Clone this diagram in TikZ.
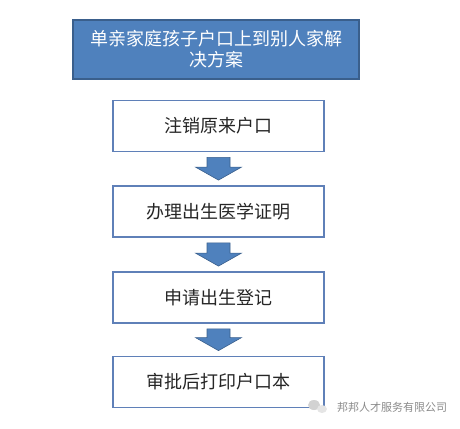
\documentclass[tikz,border=0pt]{standalone}
\usepackage{fontspec}
\setmainfont{Noto Sans CJK SC}
\newfontfamily\cjk{Noto Sans CJK SC}
\usetikzlibrary{calc}
\definecolor{titlefill}{HTML}{4F81BD}
\definecolor{titledraw}{HTML}{3A5F8C}
\definecolor{boxdraw}{HTML}{5F80B8}
\definecolor{boxtext}{HTML}{262626}
\definecolor{wmgray}{HTML}{8A8A8A}
\tikzset{
  titlebox/.style={draw=titledraw, line width=1.3pt, fill=titlefill, text=white,
    minimum width=286pt, minimum height=59pt, align=center, inner sep=0pt,
    font=\cjk\fontsize{18}{21}\selectfont},
  stepbox/.style={draw=boxdraw, line width=1.8pt, fill=white, text=boxtext,
    minimum width=211pt, minimum height=51pt, inner sep=0pt,
    font=\cjk\fontsize{18}{21}\selectfont},
  blockarrow/.style={fill=titlefill, draw=titledraw, line width=0.6pt},
  watermark/.style={text=wmgray, font=\cjk\fontsize{11}{12}\selectfont, inner sep=0pt}
}
\newcommand\flowarrow[2]{%
  \path[blockarrow] let \p1=(#1.south), \p2=(#2.north) in
    (\x1-11.5pt,\y1-5pt) -- (\x1+11.5pt,\y1-5pt) -- (\x1+11.5pt,\y2+18pt)
    -- (\x1+23pt,\y2+18pt) -- (\x1,\y2+5pt) -- (\x1-23pt,\y2+18pt)
    -- (\x1-11.5pt,\y2+18pt) -- cycle;}
\begin{document}
\begin{tikzpicture}[x=1pt,y=-1pt]
\useasboundingbox (0,0) rectangle (460,428);
\node[titlebox] (title) at (216,49.5) {单亲家庭孩子户口上到别人家解\\决方案};
\node[stepbox] (s1) at (218.5,126) {注销原来户口};
\node[stepbox] (s2) at (218.5,211.5) {办理出生医学证明};
\node[stepbox] (s3) at (218.5,297.5) {申请出生登记};
\node[stepbox] (s4) at (218.5,382) {审批后打印户口本};
\flowarrow{s1}{s2}
\flowarrow{s2}{s3}
\flowarrow{s3}{s4}
% watermark icon
\fill[gray!35] (314,405) ellipse (6pt and 5pt);
\fill[gray!20] (322,409) ellipse (5pt and 4pt);
\node[watermark, anchor=west] (wm) at (337,407) {邦邦人才服务有限公司};
\end{tikzpicture}
\end{document}
